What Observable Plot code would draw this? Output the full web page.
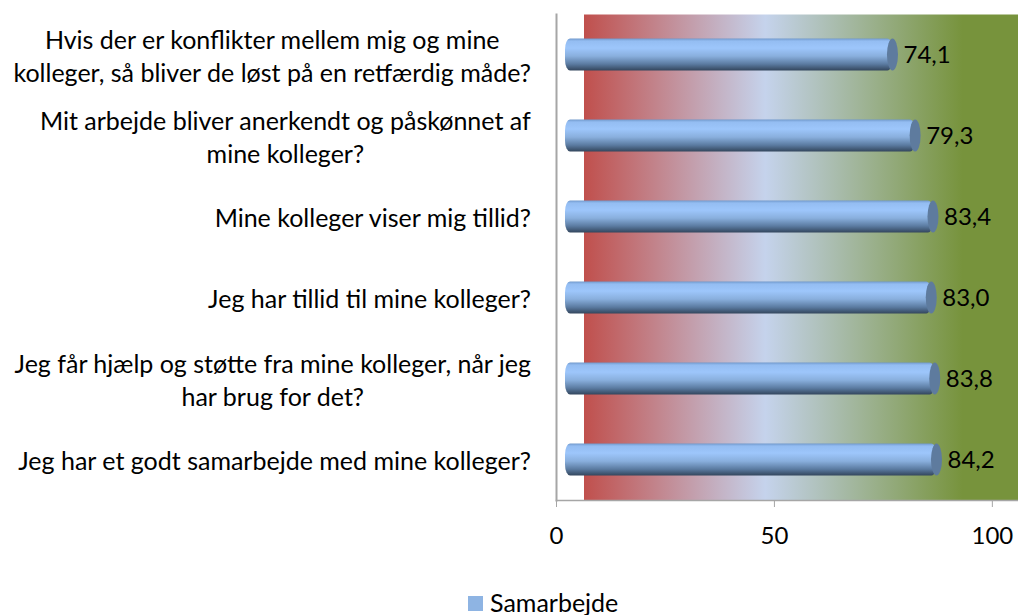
<!DOCTYPE html>
<html>
<head>
<meta charset="utf-8">
<script src="https://cdn.jsdelivr.net/npm/d3@7"></script>
<script src="https://cdn.jsdelivr.net/npm/@observablehq/plot@0.6"></script>
<style>
  html, body { margin: 0; padding: 0; background: #fff; overflow: hidden; }
  #chart { position: relative; width: 1018px; height: 615px; font-family: Lato, "Open Sans", sans-serif; }
  #legend { position: absolute; left: 0; top: 570px; width: 1018px; height: 45px; }
  #legend .sw { position: absolute; left: 468px; top: 26px; width: 15px; height: 15px; background: #8eb4e3; }
  #legend .lab { position: absolute; left: 490px; top: 20px; font-size: 25px; line-height: 25px; color: #000; white-space: nowrap; }
</style>
</head>
<body>
<div id="chart"></div>
<script>
const categories = [
  "Hvis der er konflikter mellem mig og mine\nkolleger, så bliver de løst på en retfærdig måde?",
  "Mit arbejde bliver anerkendt og påskønnet af\nmine kolleger?",
  "Mine kolleger viser mig tillid?",
  "Jeg har tillid til mine kolleger?",
  "Jeg får hjælp og støtte fra mine kolleger, når jeg\nhar brug for det?",
  "Jeg har et godt samarbejde med mine kolleger?"
];
const values = [74.1, 79.3, 83.4, 83.0, 83.8, 84.2];
const xTicks = [0, 50, 100];
const seriesName = "Samarbejde";

const data = categories.map((c, i) => ({category: c, value: values[i]}));
const fmt = v => v.toFixed(1).replace(".", ",");

const chart = Plot.plot({
  width: 1018,
  height: 570,
  marginLeft: 556,
  marginRight: 0,
  marginTop: 14,
  marginBottom: 70,
  style: {fontFamily: "Lato, 'Open Sans', sans-serif", fontSize: "24px", color: "#000", background: "transparent"},
  x: {domain: [0, 106]},
  y: {domain: categories, padding: 0},
  marks: [
    Plot.frame({fill: "url(#bgGrad)", stroke: "none"}),
    Plot.frame({anchor: "left", stroke: "#a6a6a6", strokeWidth: 2}),
    Plot.frame({anchor: "bottom", stroke: "#a6a6a6", strokeWidth: 1.5}),
    Plot.axisX({ticks: xTicks, tickSize: 7, tickPadding: 19, stroke: "#a6a6a6", fill: "#000", fontSize: 24, label: null}),
    Plot.axisY({tickSize: 0, tickPadding: 28, textAnchor: "middle", lineHeight: 1.3, fontSize: 25, fill: "#000", label: null}),
    Plot.barX(data, {
      x: "value", y: "category",
      insetTop: 24.5, insetBottom: 24.5, insetLeft: -4.5,
      dx: 13.5, rx: 5, ry: 11,
      fill: "url(#cylGrad)"
    }),
    Plot.barX(data, {
      x1: "value", x2: "value", y: "category",
      insetTop: 24.5, insetBottom: 24.5, insetLeft: -5.5, insetRight: -5.5,
      dx: 13.5, rx: 5.5, ry: 16,
      fill: "#5e7b9e"
    }),
    Plot.text(data, {
      x: "value", y: "category", text: d => fmt(d.value),
      dx: 24, textAnchor: "start", fontSize: 24, fill: "#000"
    })
  ]
});

const root = document.getElementById("chart");
root.appendChild(chart);

const svg = d3.select(chart);
const defs = svg.insert("defs", ":first-child");
const bg = defs.append("linearGradient").attr("id", "bgGrad").attr("x1", 0).attr("y1", 0).attr("x2", 1).attr("y2", 0);
[[0, "#ffffff"], [0.0606, "#ffffff"], [0.0606, "#c0504d"], [0.452, "#c5d3ec"], [0.879, "#77933c"], [1, "#77933c"]]
  .forEach(([o, c]) => bg.append("stop").attr("offset", o).attr("stop-color", c));
const cyl = defs.append("linearGradient").attr("id", "cylGrad").attr("x1", 0).attr("y1", 0).attr("x2", 0).attr("y2", 1);
[[0, "#7199cc"], [0.08, "#94bdf2"], [0.3, "#9dc6fb"], [0.55, "#89afdd"], [0.8, "#5b7ba1"], [1, "#33465d"]]
  .forEach(([o, c]) => cyl.append("stop").attr("offset", o).attr("stop-color", c));

// right-align each y label block at the same edge, lines centered within it
const rightEdge = 531;
svg.selectAll('[aria-label="y-axis tick label"] text').each(function() {
  const r = this.getBoundingClientRect();
  const shift = rightEdge - r.right;
  const t = this.getAttribute("transform") || "";
  const m = t.match(/translate\(([-\d.e]+),\s*([-\d.e]+)\)/);
  if (m) {
    this.setAttribute("transform", `translate(${+m[1] + shift},${+m[2]})`);
  } else {
    this.setAttribute("transform", `translate(${shift},0) ` + t);
  }
});

const legend = document.createElement("div");
legend.id = "legend";
legend.innerHTML = `<div class="sw"></div><div class="lab">${seriesName}</div>`;
root.appendChild(legend);
</script>
</body>
</html>
